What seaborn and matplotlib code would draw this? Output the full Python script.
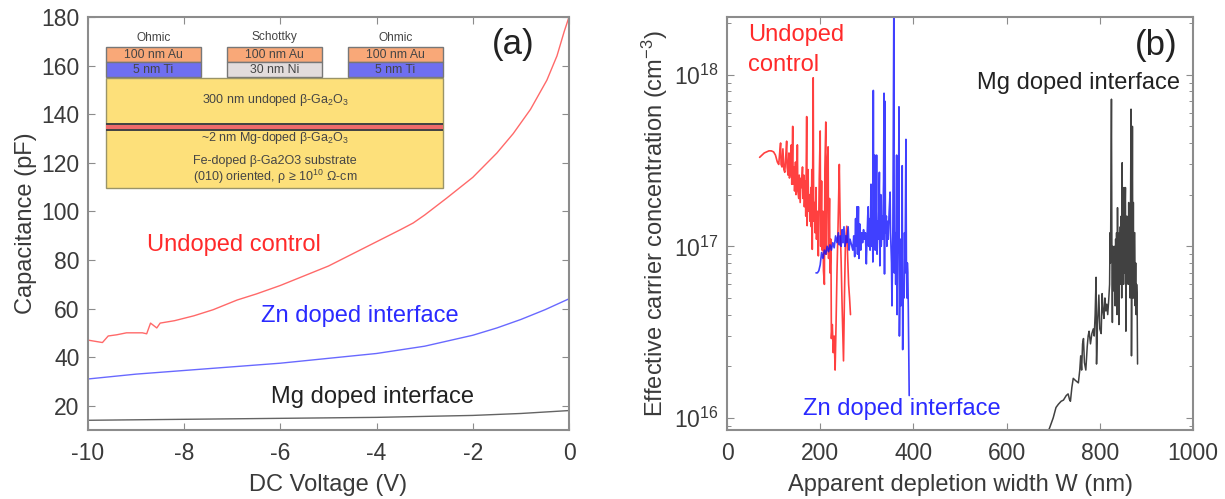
import matplotlib
matplotlib.use("Agg")
import matplotlib.pyplot as plt
from matplotlib.patches import Rectangle
import seaborn as sns

# panel (a): capacitance vs DC voltage
red_v = [-10, -9.85, -9.7, -9.58, -9.4, -9.2, -9.0, -8.87, -8.78, -8.7, -8.57, -8.5, -8.2, -7.8, -7.4, -6.9, -6.5, -6, -5.5, -5, -4.5, -3.93, -3.5, -3.24, -3, -2.54, -2, -1.85, -1.5, -1.16, -0.8, -0.46, -0.25, -0.1, 0]
red_c = [47, 46.5, 46, 48.7, 49.2, 50, 50, 50, 49.6, 54, 52, 54, 55, 57, 59.5, 63.5, 66, 69.5, 73.5, 77.5, 82.5, 88.2, 92.5, 95.2, 98.5, 105.5, 114, 117, 124, 132, 142, 154, 164, 174, 180]
blue_v = [-10, -9, -8, -7, -6, -5, -4, -3, -2, -1.5, -1, -0.5, 0]
blue_c = [31, 33, 34.5, 36, 37.5, 39.5, 41.5, 44.5, 49, 52, 55.5, 59.5, 64]
black_v = [-10, -8, -6, -4, -2, -1, 0]
black_c = [14, 14.4, 14.8, 15.2, 16, 16.8, 18]

# panel (b): carrier concentration (in 1e17 cm-3) vs depletion width
red_w = [70, 75, 80, 85, 90, 95, 100, 104, 108, 111,
         113, 115, 116, 118, 120, 122, 124, 126, 128, 129,
         131, 133, 134, 136, 138, 139, 141, 142, 144, 145,
         147, 148, 150, 151, 152, 154, 155, 157, 159, 160,
         162, 163, 165, 166, 168, 169, 171, 172, 174, 175,
         177, 178, 180, 181, 182, 183, 185, 186, 188, 189,
         191, 192, 194, 196, 198, 200, 201, 203, 204, 206,
         207, 209, 210, 212, 213, 215, 217, 218, 220, 221,
         223, 224, 226, 228, 230, 232, 234, 236, 238, 239,
         241, 243, 245, 247, 250, 252, 254, 257, 259, 261,
         263, 265]
red_n = [3.3, 3.4, 3.5, 3.55, 3.6, 3.6, 3.55, 3.4, 3.1, 3.0,
         3.5, 4.0, 3.0, 2.9, 3.7, 2.8, 2.7, 3.3, 4.1, 2.9,
         2.6, 3.5, 2.5, 2.7, 3.9, 2.3, 5.0, 2.3, 2.9, 2.1,
         3.1, 2.0, 2.4, 3.9, 2.1, 1.9, 2.6, 1.8, 2.5, 2.2,
         2.9, 1.9, 2.6, 1.7, 2.4, 1.5, 5.7, 1.32, 2.8, 1.6,
         2.0, 1.4, 2.2, 1.3, 2.8, 0.96, 9.6, 1.4, 1.8, 1.2,
         2.2, 1.1, 1.6, 0.88, 2.5, 4.7, 1.0, 2.4, 0.95, 1.6,
         0.72, 0.6, 2.8, 5.3, 0.9, 3.0, 3.8, 0.85, 1.9, 0.7,
         1.1, 0.29, 0.35, 0.24, 0.3, 0.19, 0.35, 0.7, 1.2, 1.6,
         3.0, 1.3, 0.8, 0.45, 0.215, 0.5, 1.0, 1.31, 0.85, 0.6,
         0.5, 0.4]

blue_w = [191, 194, 197, 200, 203, 206, 209, 212, 215, 218,
          221, 224, 227, 230, 233, 236, 239, 241, 243, 245,
          247, 249, 251, 253, 255, 257, 260, 262, 264, 266,
          268, 270, 272, 274, 276, 277, 279, 280, 282, 283,
          285, 287, 289, 291, 293, 295, 297, 299, 300, 302,
          303, 304, 306, 307, 309, 310, 312, 313, 314, 315,
          316, 317, 318, 320, 321, 322, 324, 325, 327, 328,
          330, 331, 333, 334, 336, 337, 338, 339, 340, 342,
          343, 345, 346, 348, 350, 351, 353, 354, 356, 358,
          359, 361, 362, 364, 365, 366, 368, 369, 370, 372,
          373, 375, 376, 377, 378, 380, 381, 382, 384, 385,
          386, 387, 388, 389, 391]
blue_n = [0.70, 0.70, 0.72, 0.78, 0.92, 0.85, 0.95, 0.90, 1.0, 0.93,
          1.02, 0.95, 1.05, 0.98, 1.15, 1.05, 1.2, 1.02, 1.15, 1.0,
          1.25, 1.05, 1.3, 1.0, 1.15, 1.05, 1.3, 0.95, 1.1, 1.05,
          1.0, 0.95, 1.15, 0.87, 1.45, 1.0, 1.7, 0.9, 1.7, 0.85,
          1.35, 0.95, 1.2, 1.05, 1.25, 1.1, 1.2, 0.79, 1.0, 1.5,
          1.7, 1.0, 1.45, 0.95, 2.3, 1.0, 1.5, 0.81, 8.1, 1.1,
          1.4, 3.4, 0.95, 1.5, 3.4, 0.9, 1.4, 1.1, 2.7, 0.77,
          2.0, 1.0, 1.5, 1.1, 2.4, 7.8, 0.69, 7.0, 1.2, 1.5,
          1.0, 1.4, 1.1, 1.6, 2.07, 1.2, 0.8, 0.45, 1.3, 24,
          0.7, 1.2, 0.6, 3.4, 0.4, 0.9, 1.5, 6.5, 0.3, 1.1,
          0.45, 0.8, 2.95, 0.25, 0.6, 0.5, 1.2, 0.7, 4.2, 0.8,
          0.5, 0.8, 0.7, 0.45, 0.135]

black_w = [680, 692, 700, 706, 711, 717, 722, 728, 732, 735,
           737, 740, 743, 748, 754, 757, 759, 761, 763, 765,
           767, 770, 773, 775, 777, 780, 783, 786, 788, 790,
           792, 793, 795, 798, 800, 803, 805, 807, 809, 811,
           813, 815, 817, 819, 821, 822, 823, 825, 826, 827,
           828, 829, 830, 831, 832, 833, 834, 835, 836, 837,
           838, 839, 840, 841, 842, 843, 844, 845, 846, 847,
           848, 849, 850, 851, 852, 853, 854, 855, 856, 857,
           858, 859, 860, 861, 862, 863, 864, 865, 866, 867,
           868, 869, 870, 871, 872, 873, 874, 875, 876, 877,
           878, 879, 880, 881]
black_n = [0.075, 0.087, 0.10, 0.115, 0.12, 0.125, 0.127, 0.135, 0.138, 0.128,
           0.125, 0.15, 0.17, 0.165, 0.16, 0.19, 0.23, 0.19, 0.27, 0.29,
           0.21, 0.19, 0.26, 0.3, 0.32, 0.27, 0.31, 0.33, 0.3, 0.4,
           0.66, 0.206, 0.35, 0.52, 0.33, 0.31, 0.53, 0.42, 0.38, 0.5,
           0.42, 0.46, 0.4, 0.48, 0.6, 1.2, 0.8, 7.2, 0.9, 0.36,
           1.0, 0.55, 0.9, 0.6, 1.0, 0.45, 1.1, 0.6, 1.2, 0.4,
           1.68, 0.6, 1.1, 0.35, 1.2, 0.7, 1.3, 0.6, 1.5, 0.5,
           3.07, 0.7, 1.6, 0.6, 2.2, 0.7, 1.5, 2.2, 0.32, 0.8,
           1.5, 0.7, 1.2, 0.6, 1.8, 0.7, 1.5, 0.5, 1.8, 6.3,
           0.23, 0.8, 5.0, 0.5, 1.8, 0.5, 1.2, 1.2, 0.45, 0.8,
           0.4, 0.6, 0.52, 0.206]

# schematic in the inset: label, fill
contact_layers = [("100 nm Au", "#f9a878"), ("5 nm Ti", "#6f6ff0"), ("30 nm Ni", "#e2dcdc")]
stack_labels = ["300 nm undoped β-Ga$_2$O$_3$", "~2 nm Mg-doped β-Ga$_2$O$_3$",
                "Fe-doped β-Ga2O3 substrate", "(010) oriented, ρ ≥ 10$^{10}$ Ω-cm"]

RED = "#ff2a2a"
BLUE = "#2a2aff"
BLACK = "#222222"
GREY = "#8c8c8c"
TEXT = "#3a3a3a"

sns.set_style("ticks")
plt.rcParams["font.family"] = ["Liberation Sans", "DejaVu Sans"]
plt.rcParams["mathtext.default"] = "regular"

fig = plt.figure(figsize=(12.25, 4.99), dpi=100)
W, H = 1225, 499
ax1 = fig.add_axes([88 / W, 1 - 430 / H, (569 - 88) / W, (430 - 17) / H])
ax2 = fig.add_axes([727 / W, 1 - 430 / H, (1193 - 727) / W, (430 - 17) / H])

sns.lineplot(x=red_v, y=red_c, ax=ax1, color=RED, lw=1.0, alpha=0.7, estimator=None, sort=False)
sns.lineplot(x=blue_v, y=blue_c, ax=ax1, color=BLUE, lw=1.0, alpha=0.7, estimator=None, sort=False)
sns.lineplot(x=black_v, y=black_c, ax=ax1, color=BLACK, lw=1.0, alpha=0.7, estimator=None, sort=False)

sns.lineplot(x=red_w, y=[n * 1e17 for n in red_n], ax=ax2, color="#ff1010", lw=1.2, alpha=0.8, estimator=None, sort=False)
sns.lineplot(x=blue_w, y=[n * 1e17 for n in blue_n], ax=ax2, color="#1010ff", lw=1.2, alpha=0.8, estimator=None, sort=False)
sns.lineplot(x=black_w, y=[n * 1e17 for n in black_n], ax=ax2, color="#111111", lw=1.1, alpha=0.8, estimator=None, sort=False)

ax1.set_xlim(-10, 0)
ax1.set_ylim(10, 180)
ax1.set_xticks(range(-10, 1, 2))
ax1.set_yticks(range(20, 181, 20))
ax1.set_xticklabels(["-10", "-8", "-6", "-4", "-2", "0"])
ax1.set_xlabel("DC Voltage (V)", fontsize=17, color=TEXT, labelpad=6)
ax1.set_ylabel("Capacitance (pF)", fontsize=17, color=TEXT, labelpad=3)

ax2.set_yscale("log")
ax2.set_xlim(0, 1000)
ax2.set_ylim(8.5e15, 2.17e18)
ax2.set_xticks(range(0, 1001, 200))
ax2.set_yticks([1e16, 1e17, 1e18])
ax2.set_yticklabels(["$10^{16}$", "$10^{17}$", "$10^{18}$"])
ax2.set_xlabel("Apparent depletion width W (nm)", fontsize=17, color=TEXT, labelpad=6)
ax2.set_ylabel("Effective carrier concentration (cm$^{-3}$)", fontsize=17, color=TEXT, labelpad=3)

for ax in (ax1, ax2):
    for s in ax.spines.values():
        s.set_color(GREY)
        s.set_linewidth(1.5)
        s.set_visible(True)
    ax.tick_params(which="major", direction="in", length=5, width=0.8, color=GREY,
                   top=True, right=True, labelsize=16.5, labelcolor=TEXT, pad=6)
    ax.tick_params(axis="x", which="major", pad=9)
    ax.tick_params(which="minor", direction="in", length=3, width=0.7, color=GREY,
                   left=True, right=True)

ax1.text(-8.77, 86, "Undoped control", color=RED, fontsize=17, va="center")
ax1.text(-6.41, 57, "Zn doped interface", color=BLUE, fontsize=17, va="center")
ax1.text(-6.2, 23.6, "Mg doped interface", color=BLACK, fontsize=17, va="center")
ax1.text(-1.6, 168.5, "(a)", color=BLACK, fontsize=25, va="center")

ax2.text(45, 1.7e18, "Undoped", color=RED, fontsize=17, va="center")
ax2.text(45, 1.14e18, "control", color=RED, fontsize=17, va="center")
ax2.text(536, 8.98e17, "Mg doped interface", color=BLACK, fontsize=17, va="center")
ax2.text(163, 1.13e16, "Zn doped interface", color=BLUE, fontsize=17, va="center")
ax2.text(875, 1.49e18, "(b)", color=BLACK, fontsize=25, va="center")

# inset schematic, laid out in figure pixels
ov = fig.add_axes([0, 0, 1, 1], facecolor="none")
ov.set_xlim(0, W)
ov.set_ylim(H, 0)
ov.axis("off")

def block(x0, y0, x1, y1, fill, edge="#777777", lw=1.0):
    ov.add_patch(Rectangle((x0, y0), x1 - x0, y1 - y0, facecolor=fill, edgecolor=edge, linewidth=lw))

def label(x, y, s, size=9):
    ov.text(x, y, s, fontsize=size, color="#454545", ha="center", va="center")

for x0, x1, name, lower in [(106, 201, "Ohmic", 1), (227, 322, "Schottky", 2), (348, 443, "Ohmic", 1)]:
    cx = (x0 + x1) / 2
    block(x0, 47, x1, 62, contact_layers[0][1])
    block(x0, 62, x1, 77, contact_layers[lower][1])
    label(cx, 54.5, contact_layers[0][0], 8.8)
    label(cx, 69.5, contact_layers[lower][0], 8.8)
    label(cx, 38 if name == "Ohmic" else 37, name, 8.6)

block(106, 78, 443, 188, "#fde07a", edge="#9a9468")
block(106, 125, 443, 129, "#ee6a6a", edge="none", lw=0)
block(106, 123, 443, 125, "#444444", edge="none", lw=0)
block(106, 129, 443, 131, "#444444", edge="none", lw=0)
label(275, 100, stack_labels[0], 9)
label(275, 138.5, stack_labels[1], 9)
label(275, 161, stack_labels[2], 9)
label(275, 177, stack_labels[3], 9)

fig.savefig("out.png", dpi=100)
